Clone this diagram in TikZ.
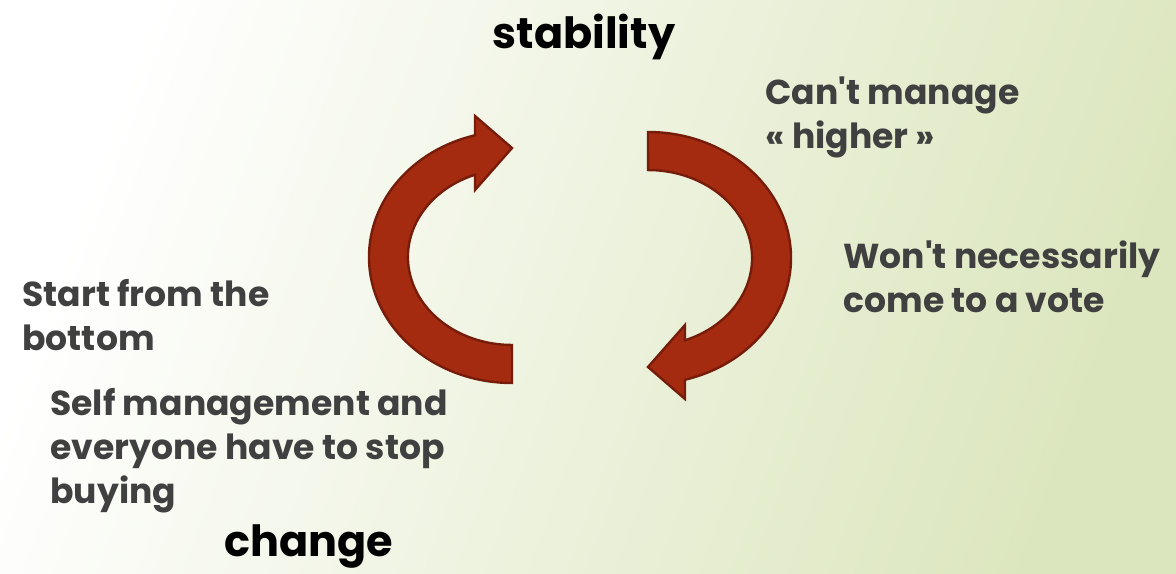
\documentclass[tikz,border=0pt]{standalone}
\usepackage{fontspec}
\setmainfont{Poppins}
\usetikzlibrary{positioning}
\definecolor{arrowred}{RGB}{165,43,16}
\definecolor{arrowline}{RGB}{118,28,10}
\definecolor{notegray}{RGB}{64,64,64}
\definecolor{bggreen}{RGB}{220,230,190}
\newcommand{\turnarrow}{(0,-126) arc[start angle=270,end angle=105,x radius=143,y radius=126]
  -- (-37,141) -- (0,109) -- (-37,67) -- (-37,82.3)
  arc[start angle=110.8,end angle=270,x radius=104,y radius=88] -- cycle}

\begin{document}
\begin{tikzpicture}[x=0.5pt,y=0.5pt,
  title/.style={font=\fontsize{21.5}{26}\selectfont\bfseries, text=black, inner sep=0pt},
  note/.style={font=\fontsize{17.3}{22}\selectfont\bfseries, text=notegray, align=left, inner sep=0pt},
  cyclearrow/.style={fill=arrowred, draw=arrowline, line width=1.2pt, line join=miter}]
 \shade[left color=white, right color=bggreen, shading angle=70] (0,0) rectangle (1176,-573);
 \useasboundingbox (0,0) rectangle (1176,-573);

 % the two turning arrows
 \begin{scope}[shift={(512,-257)}]
  \path[cyclearrow] \turnarrow;
 \end{scope}
 \begin{scope}[shift={(648,-258)}, rotate=180]
  \path[cyclearrow] \turnarrow;
 \end{scope}

 \node[title, anchor=base] (stability) at (584,-48) {stability};
 \node[title, anchor=base] (change) at (309,-556) {change};

 \node[note, anchor=base west] (higher) at (765,-148) {Can\textquotesingle t manage\\« higher »};
 \node[note, anchor=base west] (vote) at (843,-312) {Won\textquotesingle t necessarily\\come to a vote};
 \node[note, anchor=base west] (bottom) at (22,-350) {Start from the\\bottom};
 \node[note, anchor=base west] (buying) at (50,-503) {Self management and\\everyone have to stop\\buying};
\end{tikzpicture}
\end{document}
